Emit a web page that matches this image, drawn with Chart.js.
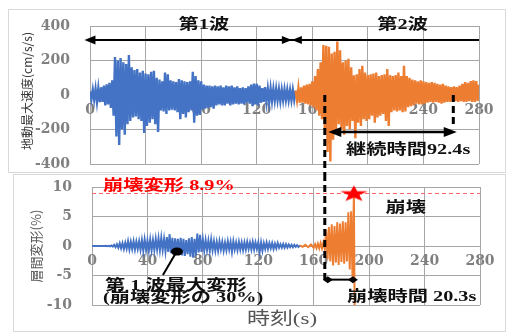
<!DOCTYPE html>
<html lang="ja">
<head>
<meta charset="UTF-8">
<title>地動加速度と層間変形</title>
<script src="https://cdn.jsdelivr.net/npm/chart.js"></script>
<style>
  html, body { margin: 0; padding: 0; background: #fff; }
  body { width: 507px; height: 332px; position: relative; overflow: hidden; }
  canvas { position: absolute; left: 0; }
  #accChart { top: 0; }
  #driftChart { top: 174px; }
</style>
</head>
<body>
<canvas id="accChart" width="507" height="174"></canvas>
<canvas id="driftChart" width="507" height="158"></canvas>
<script>
// axis ticks
const timeTicks = [0, 40, 80, 120, 160, 200, 240, 280];
const accTicks = [-400, -200, 0, 200, 400];
const driftTicks = [-10, -5, 0, 5, 10];

// ground acceleration (cm/s/s), one sample per second
const wave1Start = 0;
const acc1 = [
  20, -25, 30, -28, 35, -40, 38, -42, 45, -40,
  55, -60, 62, -55, 70, -75, 85, -120, 220, -240,
  200, -290, 215, -200, 190, -230, 180, -170, 232, -150,
  160, -130, 145, -125, 150, -140, 130, -150, 140, -220,
  125, -180, 120, -160, 135, -140, 140, -170, 100, -215,
  90, -90, 80, -95, 130, -110, 120, -90, 85, -85,
  80, -90, 75, -100, 92, -140, 85, -110, 80, -130,
  75, -100, 80, -90, 135, -160, 110, -120, 85, -115,
  80, -85, 60, -80, 55, -75, 55, -70, 50, -80,
  55, -60, 50, -55, 55, -60, 45, -60, 55, -50,
  50, -60, 55, -55, 45, -50, 50, -55, 40, -50,
  45, -55, 40, -45, 50, -50, 60, -65, 66, -55,
  65, -60, 55, -45, 40, -40, 45, -40, 35, -40,
  38, -35, 35, -32, 35, -30, 32, -35, 30, -30,
  32, -28, 30, -30, 28, -30, 30, -28, 25
];
const wave2Start = 148;
const acc2 = [
  25, -30, 40, -45, 45, -45, 55, -50, 60, -55,
  65, -60, 80, -70, 110, -90, 150, -120, 190, -140,
  290, -200, 285, -330, 280, -385, 240, -260, 250, -220,
  310, -170, 260, -200, 190, -230, 200, -180, 210, -200,
  160, -150, 115, -250, 120, -160, 150, -180, 170, -140,
  130, -150, 115, -140, 120, -120, 125, -160, 130, -130,
  110, -120, 115, -110, 120, -150, 150, -180, 115, -100,
  110, -90, 115, -95, 130, -90, 110, -100, 170, -95,
  110, -70, 100, -65, 90, -60, 85, -50, 80, -55,
  85, -55, 80, -50, 75, -45, 70, -40, 75, -45,
  70, -40, 65, -45, 60, -50, 65, -45, 55, -40,
  50, -40, 45, -40, 50, -35, 45, -40, 55, -35,
  65, -40, 75, -40, 70, -35, 80, -40, 85, -40,
  80, -35, 60
];

// story drift (%)
const drift1 = [
  0, 0, 0, 0, 0, 0, 0, 0, 0, 0,
  0.02, -0.02, 0.05, -0.05, 0.1, -0.1, 0.2, -0.2, 0.3, -0.3,
  0.45, -0.4, 0.5, -0.5, 0.55, -0.45, 0.8, -0.6, 0.7, -0.55,
  0.8, -0.6, 0.75, -0.5, 0.8, -0.65, 1.0, -0.8, 1.1, -0.7,
  0.9, -0.8, 1.1, -0.75, 1.0, -0.7, 1.2, -0.6, 1.3, -0.7,
  1.4, -0.65, 1.2, -0.9, 1.5, -1.0, 2.0, -1.2, 1.4, -1.4,
  1.3, -1.1, 1.2, -1.5, 1.4, -1.6, 1.2, -1.7, 1.0, -1.4,
  1.3, -1.8, 1.5, -2.0, 1.2, -1.6, 2.1, -1.1, 1.9, -1.0,
  1.1, -0.8, 1.0, -0.7, 0.9, -0.8, 1.1, -0.7, 0.8, -0.8,
  0.7, -0.8, 0.8, -0.6, 0.7, -0.8, 0.6, -0.7, 0.8, -0.6,
  0.7, -1.0, 0.8, -0.6, 0.6, -0.7, 0.7, -0.6, 0.6, -0.7,
  0.6, -0.6, 0.7, -0.5, 0.6, -0.6, 0.7, -0.6, 0.6, -0.5,
  0.6, -1.0, 0.6, -0.8, 0.5, -0.5, 0.6, -0.5, 0.5, -0.4,
  0.5, -0.5, 0.4, -0.4, 0.5, -0.3, 0.3, -0.3, 0.35, -0.3,
  0.3, -0.25, 0.25, -0.2, 0.2, -0.2, 0.2, -0.15, 0.15, -0.15,
  0.1
];
const drift2Time = [150, 152, 154, 156, 158, 160, 161, 162, 163, 164, 165, 166, 167, 168,
  169, 170, 171, 172, 173, 174, 175, 176, 177, 178, 179, 180, 181, 182, 183, 184,
  185, 186, 187, 188, 189, 189.5];
const drift2 = [0.1, -0.15, 0.2, -0.2, 0.25, -0.3, 0.3, -0.35, 0.4, -0.4, 0.5, -0.4, 0.6, -0.5,
  2.8, -2.3, 3.2, -2.6, 3.7, -3.3, 3.4, -2.8, 4.0, -3.2, 3.8, -2.7, 4.2, -3.0, 4.0, -2.6,
  5.7, -4.0, 5.9, -5.2, 8.9, -10];
const collapseDrift = 8.9;
const collapseTime = 189;

const BLUE = '#4472c4';
const ORANGE = '#ed7d31';
const GRID = '#a6a6a6';
const TICK_FONT = { family: '"DejaVu Serif", serif', size: 14, weight: 'bold' };
const NOTE_FONT = 'bold 15px "Liberation Serif", "Noto Sans CJK JP", serif';
const SX = 1.35; // the original figure is stretched sideways

function stretchText(ctx, text, x, y, font, color, align) {
  ctx.save();
  ctx.font = font;
  ctx.fillStyle = color;
  ctx.textBaseline = 'middle';
  ctx.textAlign = 'left';
  const w = ctx.measureText(text).width * SX;
  ctx.translate(align === 'center' ? x - w / 2 : x, y);
  ctx.scale(SX, 1);
  ctx.fillText(text, 0, 0);
  ctx.restore();
}

function head(ctx, tipX, tipY, dir, len, half) {
  ctx.beginPath();
  ctx.moveTo(tipX, tipY);
  ctx.lineTo(tipX - dir * len, tipY - half);
  ctx.lineTo(tipX - dir * len, tipY + half);
  ctx.closePath();
  ctx.fill();
}

function frame(ctx, x, y, w, h) {
  ctx.save();
  ctx.strokeStyle = '#d9d9d9';
  ctx.lineWidth = 1;
  ctx.strokeRect(x, y, w, h);
  ctx.restore();
}

function vTitle(ctx, text, cx, cy, font, color) {
  ctx.save();
  ctx.translate(cx, cy);
  ctx.rotate(-Math.PI / 2);
  ctx.font = font;
  ctx.fillStyle = color;
  ctx.textAlign = 'center';
  ctx.textBaseline = 'middle';
  ctx.fillText(text, 0, 0);
  ctx.restore();
}

function makeStar() {
  const c = document.createElement('canvas');
  c.width = 30; c.height = 18;
  const g = c.getContext('2d');
  g.fillStyle = '#ff0000';
  g.beginPath();
  for (let i = 0; i < 10; i++) {
    const r = i % 2 ? 3.4 : 8.5;
    const a = -Math.PI / 2 + i * Math.PI / 5;
    const px = 15 + Math.cos(a) * r * 1.7;
    const py = 9.5 + Math.sin(a) * r;
    if (i === 0) g.moveTo(px, py); else g.lineTo(px, py);
  }
  g.closePath();
  g.fill();
  return c;
}

function timeScale(padding) {
  return {
    type: 'linear', min: 0, max: 280,
    position: { y: 0 },
    afterBuildTicks: s => { s.ticks = timeTicks.map(v => ({ value: v })); },
    // labels sit on the zero line, so the axis takes no room of its own
    afterFit: s => { s.paddingLeft = 0; s.paddingRight = 0; s.height = 0; },
    grid: { color: GRID, drawTicks: false },
    border: { display: false },
    ticks: { font: TICK_FONT, color: '#808080', padding: padding, maxRotation: 0, autoSkip: false }
  };
}

function valueScale(min, max, ticks, width) {
  return {
    min: min, max: max,
    afterBuildTicks: s => { s.ticks = ticks.map(v => ({ value: v })); },
    afterFit: s => { s.width = width; s.paddingTop = 0; s.paddingBottom = 0; },
    grid: { color: GRID, drawTicks: false },
    border: { display: false },
    ticks: { font: TICK_FONT, color: '#808080', padding: 20 }
  };
}

const accNotes = {
  id: 'accNotes',
  beforeDraw(chart) { frame(chart.ctx, 8.5, 9.5, 497, 163); },
  afterDraw(chart) {
    const ctx = chart.ctx, x = chart.scales.x, y = chart.scales.y;
    vTitle(ctx, '地動最大速度(cm/s/s)', 27, 91, '12px "Noto Sans CJK JP", sans-serif', '#3a3a3a');

    stretchText(ctx, '第1波', x.getPixelForValue(82), y.getPixelForValue(406), NOTE_FONT, '#111', 'center');
    stretchText(ctx, '第2波', x.getPixelForValue(225), y.getPixelForValue(406), NOTE_FONT, '#111', 'center');

    ctx.save();
    ctx.fillStyle = '#000';
    ctx.strokeStyle = '#000';
    // wave spans
    const ay = y.getPixelForValue(319);
    const a0 = x.getPixelForValue(-4), am = x.getPixelForValue(145.3), a1 = x.getPixelForValue(280);
    ctx.lineWidth = 2;
    ctx.beginPath(); ctx.moveTo(a0 + 6, ay); ctx.lineTo(a1, ay); ctx.stroke();
    head(ctx, a0, ay, -1, 11, 4.5);
    head(ctx, am, ay, 1, 10, 4);
    head(ctx, am, ay, -1, 10, 4);

    // dashed markers
    ctx.lineWidth = 3;
    ctx.setLineDash([7, 4]);
    const d1 = x.getPixelForValue(169);
    ctx.beginPath(); ctx.moveTo(d1, y.getPixelForValue(0)); ctx.lineTo(d1, chart.height); ctx.stroke();
    const d2 = x.getPixelForValue(261.5);
    ctx.beginPath(); ctx.moveTo(d2, y.getPixelForValue(0)); ctx.lineTo(d2, y.getPixelForValue(-168)); ctx.stroke();
    ctx.setLineDash([]);

    // duration arrow
    const by = y.getPixelForValue(-214);
    const b0 = x.getPixelForValue(171.5), b1 = x.getPixelForValue(264);
    ctx.lineWidth = 2.5;
    ctx.beginPath(); ctx.moveTo(b0 + 8, by); ctx.lineTo(b1 - 8, by); ctx.stroke();
    head(ctx, b0, by, -1, 13, 5);
    head(ctx, b1, by, 1, 13, 5);
    ctx.restore();

    stretchText(ctx, '継続時間92.4s', x.getPixelForValue(229), y.getPixelForValue(-319), NOTE_FONT, '#111', 'center');
  }
};

const driftNotes = {
  id: 'driftNotes',
  beforeDraw(chart) { frame(chart.ctx, 13.5, 0.5, 492, 157); },
  afterDraw(chart) {
    const ctx = chart.ctx, x = chart.scales.x, y = chart.scales.y;
    vTitle(ctx, '層間変形(%)', 36, 72, '13px "Noto Sans CJK JP", sans-serif', '#595959');
    stretchText(ctx, '時刻(s)', 282, 146, '17px "Liberation Serif", "Noto Sans CJK JP", serif', '#555', 'center');

    stretchText(ctx, '崩壊変形 8.9%', x.getPixelForValue(8), y.getPixelForValue(10.2), NOTE_FONT, '#ff0000', 'left');
    stretchText(ctx, '崩壊', x.getPixelForValue(226.5), y.getPixelForValue(6.4), NOTE_FONT, '#111', 'center');

    ctx.save();
    ctx.fillStyle = '#000';
    ctx.strokeStyle = '#000';
    // collapse start marker
    const d1 = x.getPixelForValue(168);
    const ay = y.getPixelForValue(-5.7);
    ctx.lineWidth = 3;
    ctx.setLineDash([7, 4]);
    ctx.beginPath(); ctx.moveTo(d1, 0); ctx.lineTo(d1, ay); ctx.stroke();
    ctx.setLineDash([]);
    // collapse time arrow
    const a1 = x.getPixelForValue(collapseTime);
    ctx.lineWidth = 2;
    ctx.beginPath(); ctx.moveTo(d1, ay); ctx.lineTo(a1, ay); ctx.stroke();
    [d1 + 3, a1 - 1].forEach(px => {
      ctx.beginPath();
      ctx.moveTo(px - 5, ay); ctx.lineTo(px, ay - 3.5); ctx.lineTo(px + 5, ay); ctx.lineTo(px, ay + 3.5);
      ctx.closePath(); ctx.fill();
    });
    // first wave max marker
    const mx = x.getPixelForValue(61.3), my = y.getPixelForValue(-0.95);
    ctx.beginPath(); ctx.ellipse(mx, my, 6, 4, 0, 0, Math.PI * 2); ctx.fill();
    ctx.lineWidth = 2;
    ctx.beginPath(); ctx.moveTo(mx - 2, my + 3);
    ctx.lineTo(x.getPixelForValue(51.2), y.getPixelForValue(-4.9)); ctx.stroke();
    ctx.restore();

    stretchText(ctx, '崩壊時間 20.3s', x.getPixelForValue(184), y.getPixelForValue(-8.6), NOTE_FONT, '#111', 'left');
    stretchText(ctx, '第 1 波最大変形', x.getPixelForValue(9.4), y.getPixelForValue(-6.75), NOTE_FONT, '#111', 'left');
    stretchText(ctx, '(崩壊変形の 30%)', x.getPixelForValue(7.9), y.getPixelForValue(-8.8), NOTE_FONT, '#111', 'left');
  }
};

const lineStyle = { borderWidth: 2.4, pointRadius: 0, tension: 0, fill: false };
const baseOptions = {
  responsive: false,
  animation: false,
  devicePixelRatio: 1,
  plugins: { legend: { display: false }, tooltip: { enabled: false } }
};

new Chart(document.getElementById('accChart'), {
  type: 'line',
  data: {
    datasets: [
      Object.assign({ data: acc1.map((v, i) => ({ x: wave1Start + i, y: v })), borderColor: BLUE, order: 2 }, lineStyle),
      Object.assign({ data: acc2.map((v, i) => ({ x: wave2Start + i, y: v })), borderColor: ORANGE, order: 1 }, lineStyle)
    ]
  },
  options: Object.assign({}, baseOptions, {
    layout: { padding: { top: 26, right: 28, bottom: 10, left: 0 } },
    scales: { x: timeScale(7), y: valueScale(-400, 400, accTicks, 90) }
  }),
  plugins: [accNotes]
});

new Chart(document.getElementById('driftChart'), {
  type: 'line',
  data: {
    datasets: [
      Object.assign({ data: drift1.map((v, i) => ({ x: i, y: v })), borderColor: BLUE, order: 2 }, lineStyle, { borderWidth: 2 }),
      Object.assign({ data: drift2.map((v, i) => ({ x: drift2Time[i], y: v })), borderColor: ORANGE, order: 1 }, lineStyle, { borderWidth: 2 }),
      { data: [{ x: 0, y: collapseDrift }, { x: 280, y: collapseDrift }], borderColor: '#ff6666',
        borderWidth: 1, borderDash: [4, 3], pointRadius: 0, order: 3 },
      { data: [{ x: collapseTime, y: collapseDrift }], showLine: false, pointStyle: makeStar(),
        pointRadius: 10, clip: false, order: 0 }
    ]
  },
  options: Object.assign({}, baseOptions, {
    layout: { padding: { top: 13, right: 27, bottom: 27, left: 0 } },
    scales: { x: timeScale(7), y: valueScale(-10, 10, driftTicks, 92) }
  }),
  plugins: [driftNotes]
});
</script>
</body>
</html>
